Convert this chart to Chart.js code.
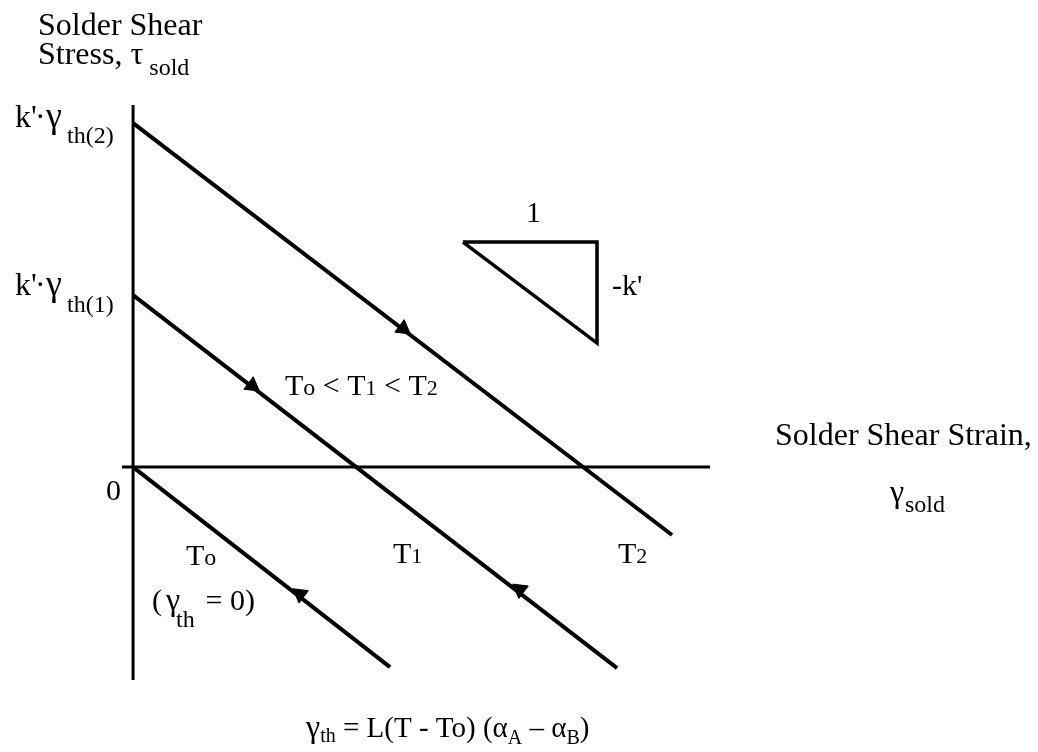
<!DOCTYPE html>
<html>
<head>
<meta charset="utf-8">
<script src="https://cdn.jsdelivr.net/npm/chart.js@4/dist/chart.umd.min.js"></script>
<style>
  html, body { margin: 0; padding: 0; background: #fff; }
  #grafico { display: block; }
</style>
</head>
<body>
<canvas id="grafico" width="1038" height="752"></canvas>
<script>
// Ejes (en unidades de gamma_th(1) para x, k'*gamma_th(1) para y)
var ejeX = [-0.049, 2.553];
var ejeY = [-1.238, 2.105];

// Rectas tau = k' (gamma_th - gamma) para To, T1, T2
var rectaToX = [0, 1.137];
var rectaToY = [0, -1.163];
var rectaT1X = [0, 2.142];
var rectaT1Y = [1.0, -1.169];
var rectaT2X = [0, 2.385];
var rectaT2Y = [2.0, -0.395];

// Triangulo de pendiente (1 / -k')
var trianguloX = [1.46, 2.053, 2.053, 1.46];
var trianguloY = [1.308, 1.308, 0.721, 1.308];

// Flechas sobre las rectas
var flechaX = [1.195, 0.527, 0.739, 1.712];
var flechaY = [0.805, 0.473, -0.739, -0.712];
var flechaGiro = [127, 127, 307, 307];

var SERIF = '"Liberation Serif", "DejaVu Serif", serif';

function puntos_(xs, ys) {
  return xs.map(function (x, i) { return { x: x, y: ys[i] }; });
}

function serieLinea_(xs, ys, ancho) {
  return {
    data: puntos_(xs, ys),
    showLine: true,
    borderColor: '#000',
    borderWidth: ancho,
    pointRadius: 0,
    fill: false,
    tension: 0
  };
}

// dibuja un texto compuesto: [texto, tamano, desplazamiento vertical]
function textoRico_(ctx, x, y, partes) {
  var cx = x;
  partes.forEach(function (p) {
    ctx.font = p[1] + 'px ' + SERIF;
    ctx.fillText(p[0], cx, y + (p[2] || 0));
    cx += ctx.measureText(p[0]).width;
  });
}

var textos = {
  id: 'textos',
  afterDraw: function (chart) {
    var ctx = chart.ctx;
    ctx.save();
    ctx.fillStyle = '#000';
    ctx.textBaseline = 'alphabetic';
    ctx.textAlign = 'left';

    textoRico_(ctx, 38, 35, [['Solder Shear', 32]]);
    textoRico_(ctx, 38, 64, [['Stress, \u03c4', 32], [' sold', 24, 11]]);

    [[127, 143, 'th(2)'], [295, 312, 'th(1)']].forEach(function (e) {
      textoRico_(ctx, 15, e[0], [["k'", 32]]);
      textoRico_(ctx, 35, e[0], [['\u00b7', 32]]);
      textoRico_(ctx, 46, e[0], [['\u03b3', 36]]);
      textoRico_(ctx, 67, e[1], [[e[2], 24]]);
    });

    textoRico_(ctx, 106, 500, [['0', 30]]);

    textoRico_(ctx, 285, 395, [['T', 30], ['o', 24], [' < T', 30], ['1', 22], [' < T', 30], ['2', 22]]);
    textoRico_(ctx, 526, 222, [['1', 30]]);
    textoRico_(ctx, 612, 295, [["-k'", 30]]);

    textoRico_(ctx, 775, 445, [['Solder Shear Strain,', 32]]);
    textoRico_(ctx, 890, 502, [['\u03b3', 32]]);
    textoRico_(ctx, 905, 512, [['sold', 24]]);

    textoRico_(ctx, 186, 565, [['T', 30], ['o', 24]]);
    textoRico_(ctx, 393, 563, [['T', 30], ['1', 22]]);
    textoRico_(ctx, 618, 563, [['T', 30], ['2', 22]]);

    textoRico_(ctx, 152, 610, [['(', 30]]);
    textoRico_(ctx, 166, 610, [['\u03b3', 32]]);
    textoRico_(ctx, 176, 627, [['th', 24]]);
    textoRico_(ctx, 198, 610, [[' = 0)', 30]]);

    textoRico_(ctx, 306, 737, [['\u03b3', 32], ['th', 20, 5], [' = L(T - To) (\u03b1', 29], ['A', 20, 7], [' \u2013 \u03b1', 29], ['B', 20, 7], [')', 29]]);

    ctx.restore();
  }
};

var datasets = [
  serieLinea_(ejeX, [0, 0], 3),
  serieLinea_([0, 0], ejeY, 3),
  serieLinea_(rectaToX, rectaToY, 4),
  serieLinea_(rectaT1X, rectaT1Y, 4),
  serieLinea_(rectaT2X, rectaT2Y, 4),
  serieLinea_(trianguloX, trianguloY, 3.5),
  {
    data: puntos_(flechaX, flechaY),
    showLine: false,
    pointStyle: 'triangle',
    pointRadius: 9,
    pointRotation: flechaGiro,
    pointBackgroundColor: '#000',
    pointBorderColor: '#000',
    pointBorderWidth: 1
  }
];

new Chart(document.getElementById('grafico'), {
  type: 'scatter',
  data: { datasets: datasets },
  options: {
    responsive: false,
    animation: false,
    layout: { padding: { left: 122, right: 328, top: 105, bottom: 72 } },
    plugins: { legend: { display: false }, tooltip: { enabled: false } },
    scales: {
      x: { type: 'linear', display: false, min: ejeX[0], max: ejeX[1] },
      y: { type: 'linear', display: false, min: ejeY[0], max: ejeY[1] }
    }
  },
  plugins: [textos]
});
</script>
</body>
</html>
